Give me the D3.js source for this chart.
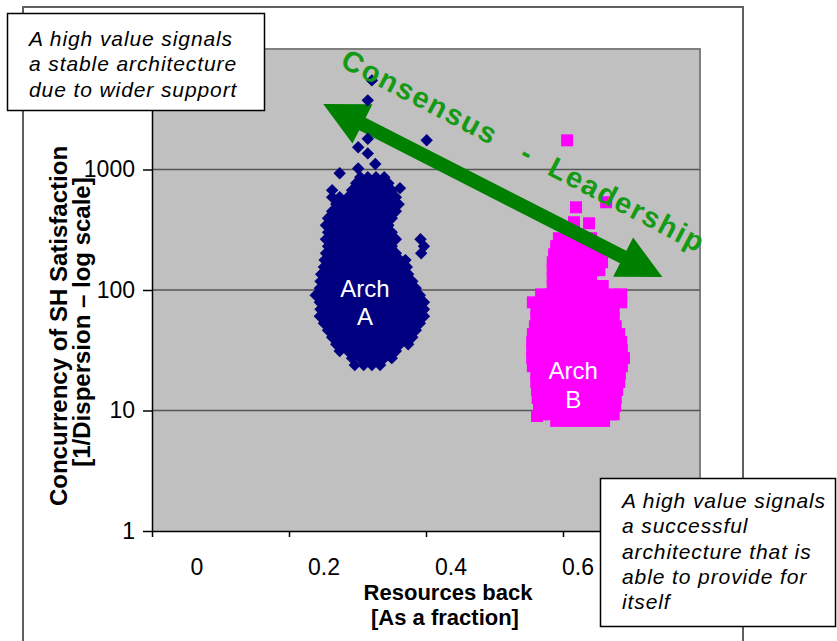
<!DOCTYPE html>
<html><head><meta charset="utf-8">
<script src="https://cdn.jsdelivr.net/npm/d3@7"></script>
<style>
html,body{margin:0;padding:0;background:#fff;}
svg{display:block;font-family:"Liberation Sans",Arial,sans-serif;}
</style></head><body>
<svg id="chart" width="837" height="641"></svg>
<script>
// ---- axis ticks ----
const xTicks = [0, 0.2, 0.4, 0.6];
const xTickLabels = ["0", "0.2", "0.4", "0.6"];
const yTicks = [1, 10, 100, 1000];
const yTickLabels = ["1", "10", "100", "1000"];

// ---- Arch A: rows of [concurrency, [resources back, ...]] ----
const archARows = [
  [23.8, [.296,.309,.321,.333]],
  [27.2, [.292,.304,.315,.327,.339,.350]],
  [31.1, [.274,.286,.298,.309,.321,.333,.345,.356]],
  [35.5, [.269,.280,.292,.304,.315,.327,.339,.350,.362,.374]],
  [40.6, [.263,.274,.286,.298,.309,.321,.333,.345,.356,.368,.380]],
  [46.4, [.257,.269,.280,.292,.304,.315,.327,.339,.350,.362,.374,.385]],
  [53.0, [.251,.263,.274,.286,.298,.309,.321,.333,.345,.356,.368,.380,.391]],
  [60.6, [.245,.257,.269,.280,.292,.304,.315,.327,.339,.350,.362,.374,.385,.397]],
  [69.3, [.246,.251,.263,.274,.286,.298,.309,.321,.333,.345,.356,.368,.380,.391,.397]],
  [79.2, [.245,.257,.269,.280,.292,.304,.315,.327,.339,.350,.362,.374,.385,.397]],
  [90.5, [.239,.251,.263,.274,.286,.298,.309,.321,.333,.345,.356,.368,.380,.391]],
  [103.5, [.245,.257,.269,.280,.292,.304,.315,.327,.339,.350,.362,.374,.385]],
  [118, [.246,.251,.263,.274,.286,.298,.309,.321,.333,.345,.356,.368,.380]],
  [135, [.247,.257,.269,.280,.292,.304,.315,.327,.339,.350,.362,.374]],
  [155, [.251,.263,.274,.286,.298,.309,.321,.333,.345,.356,.368,.372]],
  [177, [.252,.257,.269,.280,.292,.304,.315,.327,.339,.350,.362,.370]],
  [202, [.254,.263,.274,.286,.298,.309,.321,.333,.345,.356]],
  [231, [.257,.269,.280,.292,.304,.315,.327,.339,.350]],
  [264, [.254,.263,.274,.286,.298,.309,.321,.333,.345,.356]],
  [301, [.257,.269,.280,.292,.304,.315,.327,.339,.350]],
  [345, [.254,.263,.274,.286,.298,.309,.321,.333,.345]],
  [394, [.257,.269,.280,.292,.304,.315,.327,.339,.350]],
  [450, [.263,.274,.286,.298,.309,.321,.333,.345,.356]],
  [515, [.269,.280,.292,.304,.315,.327,.339,.350,.360]],
  [588, [.263,.274,.286,.298,.309,.321,.333,.345,.356]],
  [672, [.263,.292,.304,.315,.327,.339,.350]],
  [768, [.298,.309,.321,.333,.345]],
  [862, [.304,.315,.327,.339]]
];
// scattered Arch A runs [resources back, concurrency]
const archAOutliers = [
  [.321, 5490], [.315, 3750], [.315, 1800], [.301, 1530], [.315, 1360],
  [.326, 1110], [.301, 1020], [.274, 930], [.401, 1750], [.362, 700],
  [.393, 202], [.397, 231], [.392, 264]
];

// ---- Arch B: rows of [concurrency, [resources back, ...]] ----
const archBRows = [
  [269, [.594,.607,.620,.633,.641]],
  [231, [.590,.604,.619,.633,.645]],
  [198, [.587,.601,.616,.631,.645,.653]],
  [170, [.585,.600,.615,.629,.644,.657]],
  [146, [.585,.600,.615,.629,.644,.653]],
  [125, [.585,.600,.615,.629,.641]],
  [108, [.585,.600,.615,.629,.644,.658]],
  [92, [.568,.582,.597,.612,.626,.641,.655,.670,.685]],
  [79, [.556,.571,.585,.600,.615,.629,.644,.658,.673,.685]],
  [68, [.561,.575,.590,.604,.619,.634,.648,.663,.674]],
  [58, [.561,.575,.590,.604,.619,.634,.648,.663,.674]],
  [50, [.559,.574,.588,.603,.618,.632,.647,.661,.677]],
  [43, [.556,.571,.585,.600,.615,.629,.644,.658,.673,.682]],
  [37, [.555,.569,.584,.599,.613,.628,.642,.657,.672,.685]],
  [31.7, [.555,.569,.584,.599,.613,.628,.642,.657,.672,.686]],
  [27.2, [.555,.569,.584,.599,.613,.628,.642,.657,.672,.689]],
  [23.3, [.556,.571,.585,.600,.615,.629,.644,.658,.673,.686]],
  [20, [.561,.575,.590,.604,.619,.634,.648,.663,.677,.683]],
  [17.2, [.561,.575,.590,.604,.619,.634,.648,.663,.677,.682]],
  [14.8, [.562,.577,.591,.606,.620,.635,.650,.664,.679]],
  [12.7, [.563,.578,.593,.607,.622,.636,.651,.666,.677]],
  [10.9, [.565,.580,.594,.609,.623,.638,.653,.667,.676]],
  [9.3, [.568,.582,.597,.612,.626,.641,.655,.670,.674]],
  [8.2, [.590,.604,.619,.634,.648,.660]]
];
const archBOutliers = [
  [.606, 1746], [.663, 535], [.619, 486], [.616, 365], [.638, 358], [.562, 9.0]
];

// ---- annotations ----
const trendEnds = [[0.25, 3500], [0.745, 128]];
const trendText = "Consensus   -  Leadership";
const archALabel = {x: 0.311, y: 100, lines: ["Arch", "A"]};
const archBLabel = {x: 0.615, y: 14, lines: ["Arch", "B"]};
const noteTop = ["A high value signals", "a stable architecture", "due to wider support"];
const noteBottom = ["A high value signals", "a successful", "architecture that is", "able to provide for", "itself"];
const yTitle = ["Concurrency of SH Satisfaction", "[1/Dispersion \u2013 log scale]"];
const xTitle = ["Resources back", "[As a fraction]"];

// ---- layout ----
const plot = {left: 152, right: 700, top: 49, bottom: 531};
const x = d3.scaleLinear().domain([0, 0.8]).range([plot.left, plot.right]);
const y = d3.scaleLog().domain([1, 10000]).range([plot.bottom, plot.top]);
const xLabelPos = d3.scaleLinear().domain([0, 0.6]).range([197, 578]);

const svg = d3.select("#chart");
const FONT = '"Liberation Sans", Arial, sans-serif';

// outer chart frame
svg.append("rect").attr("x", 23).attr("y", 7).attr("width", 720).attr("height", 700)
  .attr("fill", "#fff").attr("stroke", "#606060").attr("stroke-width", 2);

// plot background
svg.append("rect").attr("x", plot.left).attr("y", plot.top)
  .attr("width", plot.right - plot.left).attr("height", plot.bottom - plot.top)
  .attr("fill", "#c0c0c0");
svg.append("path")
  .attr("d", `M${plot.left},${plot.top}H${plot.right}V${plot.bottom}`)
  .attr("fill", "none").attr("stroke", "#808080").attr("stroke-width", 2);

// horizontal gridlines
svg.append("g").selectAll("line").data(yTicks.filter(d => d > 1)).join("line")
  .attr("x1", plot.left).attr("x2", plot.right)
  .attr("y1", d => y(d)).attr("y2", d => y(d))
  .attr("stroke", "#555").attr("stroke-width", 1.6);

// flatten series
const ptsA = archARows.flatMap(([cv, xs]) => xs.map(rv => [rv, cv])).concat(archAOutliers);
const ptsB = archBRows.flatMap(([cv, xs]) => xs.map(rv => [rv, cv])).concat(archBOutliers);

// Arch B squares
svg.append("g").selectAll("path").data(ptsB).join("path")
  .attr("d", d3.symbol(d3.symbolSquare).size(144))
  .attr("transform", d => `translate(${x(d[0])},${y(d[1])})`)
  .attr("fill", "#ff00ff");

// double headed trend arrow
(function () {
  const p0 = [x(trendEnds[0][0]), y(trendEnds[0][1])];
  const p1 = [x(trendEnds[1][0]), y(trendEnds[1][1])];
  const L = Math.hypot(p1[0] - p0[0], p1[1] - p0[1]);
  const u = [(p1[0] - p0[0]) / L, (p1[1] - p0[1]) / L];
  const n = [-u[1], u[0]];
  const H = 44, W = 22, w = 7;
  const pt = (b, a, s) => [b[0] + u[0] * a + n[0] * s, b[1] + u[1] * a + n[1] * s];
  const poly = [
    p0, pt(p0, H, W), pt(p0, H, w), pt(p1, -H, w), pt(p1, -H, W),
    p1, pt(p1, -H, -W), pt(p1, -H, -w), pt(p0, H, -w), pt(p0, H, -W)
  ];
  svg.append("path").attr("d", d3.line()(poly) + "Z").attr("fill", "#008000");
})();

// Arch A diamonds
svg.append("g").selectAll("path").data(ptsA).join("path")
  .attr("d", d3.symbol(d3.symbolSquare).size(77))
  .attr("transform", d => `translate(${x(d[0])},${y(d[1])}) rotate(45)`)
  .attr("fill", "#000080");

// trend label
svg.append("text")
  .attr("transform", "translate(339,66) rotate(27.5)")
  .attr("font-family", FONT).attr("font-size", 29).attr("font-weight", "bold")
  .attr("letter-spacing", 1.8).style("white-space", "pre")
  .attr("fill", "#149a14").text(trendText);

// cluster labels
[archALabel, archBLabel].forEach((lab, k) => {
  const offs = k === 0 ? [7, 35] : [-14, 15];
  lab.lines.forEach((t, i) => {
    svg.append("text").attr("x", x(lab.x)).attr("y", y(lab.y) + offs[i])
      .attr("text-anchor", "middle").attr("font-family", FONT).attr("font-size", 24)
      .attr("fill", "#fff").text(t);
  });
});

// y axis
const gy = svg.append("g").attr("transform", `translate(${plot.left},0)`)
  .call(d3.axisLeft(y).tickValues(yTicks).tickFormat((d, i) => yTickLabels[i])
    .tickSize(9).tickSizeOuter(0).tickPadding(8));
gy.selectAll("text").attr("font-family", FONT).attr("font-size", 23).attr("fill", "#000");
gy.selectAll("line,path").attr("stroke", "#000").attr("stroke-width", 1.5);

// x axis
const gx = svg.append("g").attr("transform", `translate(0,${plot.bottom})`)
  .call(d3.axisBottom(x).tickValues(xTicks).tickFormat("").tickSize(6).tickSizeOuter(0));
gx.selectAll("line,path").attr("stroke", "#000").attr("stroke-width", 1.5);
svg.append("g").selectAll("text").data(xTicks).join("text")
  .attr("x", d => xLabelPos(d)).attr("y", 575).attr("text-anchor", "middle")
  .attr("font-family", FONT).attr("font-size", 23).text((d, i) => xTickLabels[i]);

// axis titles
yTitle.forEach((t, i) => {
  svg.append("text").attr("transform", `translate(${i ? 90 : 67},${i ? 322 : 326}) rotate(-90)`)
    .attr("text-anchor", "middle").attr("font-family", FONT).attr("font-size", 24)
    .attr("font-weight", "bold").text(t);
});
xTitle.forEach((t, i) => {
  svg.append("text").attr("x", i ? 445 : 448).attr("y", i ? 625 : 600)
    .attr("text-anchor", "middle").attr("font-family", FONT).attr("font-size", 22)
    .attr("font-weight", "bold").text(t);
});

// callout boxes
function note(bx, by, bw, bh, tx, ty, lines) {
  svg.append("rect").attr("x", bx).attr("y", by).attr("width", bw).attr("height", bh)
    .attr("fill", "#fff").attr("stroke", "#000").attr("stroke-width", 1.5);
  lines.forEach((t, i) => {
    svg.append("text").attr("x", tx).attr("y", ty + i * 25.3)
      .attr("font-family", FONT).attr("font-size", 21).attr("font-style", "italic")
      .attr("letter-spacing", 0.9).text(t);
  });
}
note(7.5, 13.5, 257, 97, 29, 46, noteTop);
note(600.5, 478.5, 235, 148, 622, 508, noteBottom);
</script>
</body></html>
